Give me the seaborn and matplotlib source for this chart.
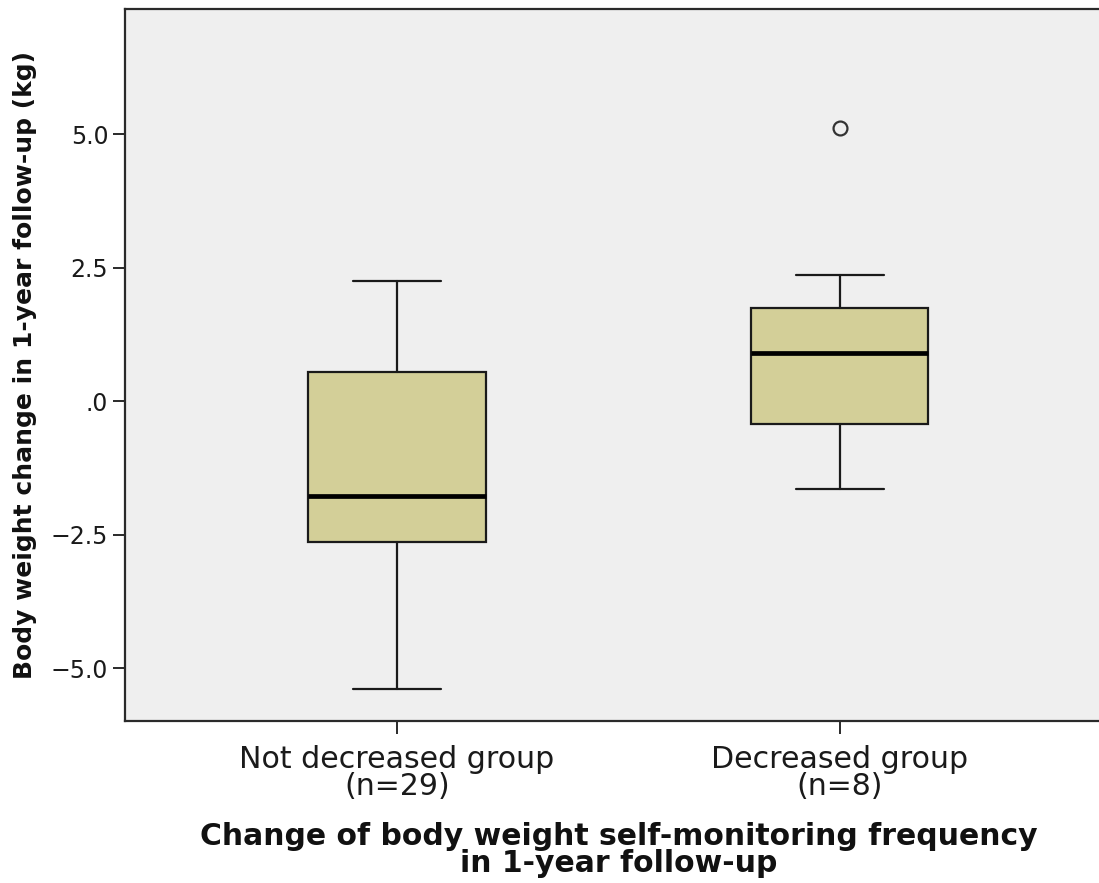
import matplotlib
matplotlib.use("Agg")
import matplotlib.pyplot as plt
import matplotlib.ticker as mticker
import seaborn as sns

# Five-number summaries of 1-year body weight change (kg) per group
groups = ["Not decreased group\n(n=29)", "Decreased group\n(n=8)"]
whisker_low = [-5.39, -1.65]
q1 = [-2.64, -0.43]
median = [-1.78, 0.90]
q3 = [0.54, 1.74]
whisker_high = [2.25, 2.36]
outliers = [[], [5.11]]

sns.set_style("white")
plt.rcParams["font.family"] = ["DejaVu Sans"]

fig = plt.figure(figsize=(10.99, 8.83), dpi=100)
ax = fig.add_axes([0.1137, 0.1835, 0.898, 0.806])
ax.set_facecolor("#efefef")

stats = []
for i, name in enumerate(groups):
    stats.append(dict(label=name, whislo=whisker_low[i], q1=q1[i], med=median[i],
                      q3=q3[i], whishi=whisker_high[i], fliers=outliers[i]))

ax.bxp(stats, positions=[0, 1], widths=0.4, capwidths=0.2, patch_artist=True,
       boxprops=dict(facecolor="#d3cf98", edgecolor="#1a1a1a", linewidth=1.6),
       medianprops=dict(color="black", linewidth=3.4),
       whiskerprops=dict(color="#1a1a1a", linewidth=1.6),
       capprops=dict(color="#1a1a1a", linewidth=1.6),
       flierprops=dict(marker="o", markersize=10, markerfacecolor="none",
                       markeredgecolor="#333333", markeredgewidth=1.6))

ax.set_xlim(-0.614, 1.614)
ax.set_ylim(-5.99, 7.34)
ax.set_yticks([-5.0, -2.5, 0.0, 2.5, 5.0])


def fmt(v, pos):
    if abs(v) < 1e-9:
        return ".0"
    return f"{v:.1f}".replace("-", "\u2212")


ax.yaxis.set_major_formatter(mticker.FuncFormatter(fmt))
ax.set_xticks([0, 1])
ax.set_xticklabels(groups, linespacing=0.95, fontsize=21.6)

for s in ax.spines.values():
    s.set_color("#2a2a2a")
    s.set_linewidth(1.6)

ax.tick_params(axis="both", direction="out", length=9, width=1.4, color="#2a2a2a",
               labelcolor="#1a1a1a", left=True, bottom=True)
ax.tick_params(axis="y", pad=3, labelsize=17)
ax.tick_params(axis="x", pad=8)

ax.set_ylabel("Body weight change in 1-year follow-up (kg)", fontsize=18,
              fontweight="bold", color="#111111")
ax.yaxis.label.set_va("center")
ax.yaxis.set_label_coords(-0.101, 0.5)

ax.set_xlabel("Change of body weight self-monitoring frequency\nin 1-year follow-up",
              fontsize=21.5, fontweight="bold", color="#111111", linespacing=0.92)
ax.xaxis.label.set_va("top")
ax.xaxis.set_label_coords(0.5, -0.142)

fig.savefig("out.png", dpi=100)
